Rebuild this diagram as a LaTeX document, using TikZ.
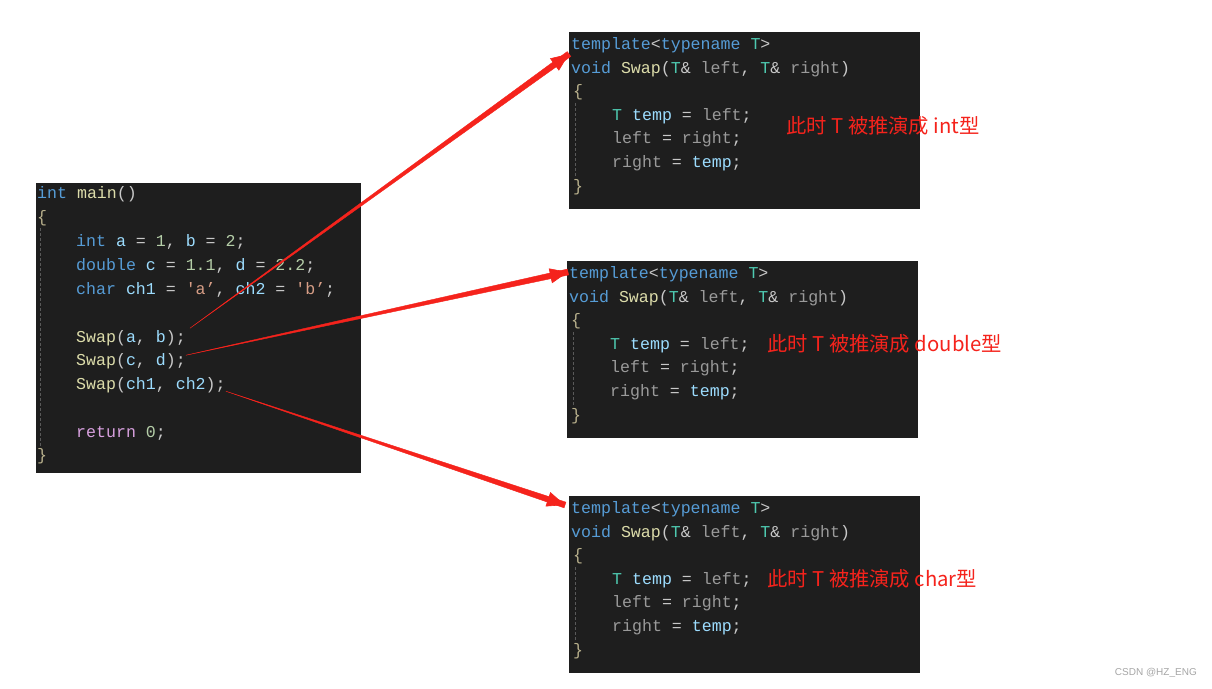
\documentclass[tikz,border=0pt]{standalone}
\usepackage{fontspec}
\usepackage{xcolor}
\usepackage{tikz}
\usetikzlibrary{calc,arrows.meta}
\setmonofont{Liberation Mono}
\newfontfamily\cjkfont{Noto Sans CJK SC}
\newfontfamily\wmfont{Liberation Sans}

\definecolor{codebg}{HTML}{1E1E1E}
\definecolor{kwblue}{HTML}{569CD6}
\definecolor{fnyellow}{HTML}{DCDCAA}
\definecolor{varblue}{HTML}{9CDCFE}
\definecolor{numgreen}{HTML}{B5CEA8}
\definecolor{strorange}{HTML}{D69D85}
\definecolor{typteal}{HTML}{4EC9B0}
\definecolor{pargray}{HTML}{9A9A9A}
\definecolor{puncgray}{HTML}{C8C8C8}
\definecolor{retpink}{HTML}{D8A0DF}
\definecolor{bracegold}{HTML}{B8B08C}
\definecolor{guidegray}{HTML}{5A5A5A}
\definecolor{notered}{HTML}{F5231C}

\newcommand\codefont{\ttfamily\fontsize{16.6}{20}\selectfont}
\newcommand\ckw[1]{\textcolor{kwblue}{#1}}
\newcommand\cfn[1]{\textcolor{fnyellow}{#1}}
\newcommand\cvar[1]{\textcolor{varblue}{#1}}
\newcommand\cnum[1]{\textcolor{numgreen}{#1}}
\newcommand\cstr[1]{\textcolor{strorange}{#1}}
\newcommand\ctyp[1]{\textcolor{typteal}{#1}}
\newcommand\cpar[1]{\textcolor{pargray}{#1}}
\newcommand\cret[1]{\textcolor{retpink}{#1}}
\newcommand\cbrace[1]{\textcolor{bracegold}{#1}}

\tikzset{
  codebox/.style={
    anchor=north west,
    fill=codebg,
    draw=none,
    inner sep=0pt
  },
  code/.style={
    anchor=base west,
    inner sep=0pt,
    text=puncgray,
    font=\codefont
  },
  guide/.style={
    draw=guidegray,
    densely dashed,
    line width=0.8pt
  },
  note/.style={
    anchor=west,
    inner sep=0pt,
    text=notered,
    font=\cjkfont\fontsize{20.3}{23}\selectfont
  },
  arrowred/.style={
    fill=notered,
    draw=notered
  }
}

% thin at the call, wide at the head
\newcommand\swaparrow[2]{%
  \fill[arrowred] (#1) -- ($(#2)!3pt!90:(#1)$) -- ($(#2)!3pt!-90:(#1)$) -- cycle;
  \draw[arrowred, line width=0.6pt, -{Triangle[length=18pt,width=15pt]}] ($(#2)!16pt!(#1)$) -- (#2);
}

\begin{document}
\begin{tikzpicture}[x=1pt, y=-1pt]
    \useasboundingbox[fill=white] (0,0) rectangle (1212,688);

    % main()
    \node[codebox, minimum width=325pt, minimum height=290pt] (mainbox) at (36,183) {};
    \draw[guide] (40,228) -- (40,448);
    \node[code] (lmain) at (37,198.5) {\ckw{int} \cfn{main}()};
    \node[code] (lopen) at (37,222.5) {\cbrace{\{}};
    \node[code] (lint) at (76,246.5) {\ckw{int} \cvar{a} = \cnum{1}, \cvar{b} = \cnum{2};};
    \node[code] (ldouble) at (76,270.5) {\ckw{double} \cvar{c} = \cnum{1.1}, \cvar{d} = \cnum{2.2};};
    \node[code] (lchar) at (76,294.5) {\ckw{char} \cvar{ch1} = \cstr{'a’}, \cvar{ch2} = \cstr{'b’};};
    \node[code] (swapab) at (76,342.5) {\cfn{Swap}(\cvar{a}, \cvar{b});};
    \node[code] (swapcd) at (76,365.5) {\cfn{Swap}(\cvar{c}, \cvar{d});};
    \node[code] (swapch) at (76,389.5) {\cfn{Swap}(\cvar{ch1}, \cvar{ch2});};
    \node[code] (lreturn) at (76,437.5) {\cret{return} \cnum{0};};
    \node[code] (lclose) at (37,460.5) {\cbrace{\}}};

    % template Swap, three times
    \foreach \bx/\by/\nm in {569/32/A, 567/261/B, 569/496/C}{
      \node[codebox, minimum width=351pt, minimum height=177pt] (box\nm) at (\bx,\by) {};
      \draw[guide] (\bx+6,\by+71) -- (\bx+6,\by+146);
      \node[code] (tmpl\nm) at (\bx+2,\by+17.5) {\ckw{template}<\ckw{typename} \ctyp{T}>};
      \node[code] (head\nm) at (\bx+2,\by+41.1) {\ckw{void} \cfn{Swap}(\ctyp{T}\& \cpar{left}, \ctyp{T}\& \cpar{right})};
      \node[code] (open\nm) at (\bx+4,\by+64.7) {\cbrace{\{}};
      \node[code] (temp\nm) at (\bx+43,\by+88.3) {\ctyp{T} \cvar{temp} = \cpar{left};};
      \node[code] (left\nm) at (\bx+43,\by+111.9) {\cpar{left} = \cpar{right};};
      \node[code] (right\nm) at (\bx+43,\by+135.5) {\cpar{right} = \cvar{temp};};
      \node[code] (close\nm) at (\bx+4,\by+159.1) {\cbrace{\}}};
    }

    \node[note] (noteA) at (786,126) {此时 T 被推演成 int型};
    \node[note] (noteB) at (767,344) {此时 T 被推演成 double型};
    \node[note] (noteC) at (767,579) {此时 T 被推演成 char型};

    % arrows
    \coordinate (fromab) at ($(swapab.east)+(4,-10)$);
    \coordinate (fromcd) at ($(swapcd.east)+(0,-6)$);
    \coordinate (fromch) at ($(swapch.east)+(0,6)$);
    \coordinate (toA) at ($(boxA.north west)+(0,22)$);
    \coordinate (toB) at ($(boxB.north west)+(1,11)$);
    \coordinate (toC) at ($(boxC.north west)+(-4,9)$);
    \swaparrow{fromab}{toA}
    \swaparrow{fromcd}{toB}
    \swaparrow{fromch}{toC}

    \node[anchor=east, inner sep=0pt, text=gray!70, font=\wmfont\fontsize{10}{12}\selectfont] (mark) at (1197,673) {CSDN @HZ\_ENG};
\end{tikzpicture}
\end{document}
